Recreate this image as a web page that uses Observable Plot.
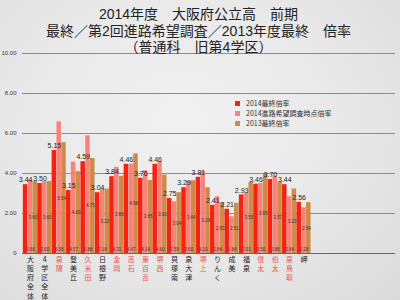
<!DOCTYPE html>
<html><head><meta charset="utf-8">
<script src="https://cdn.jsdelivr.net/npm/d3@7"></script>
<script src="https://cdn.jsdelivr.net/npm/@observablehq/plot@0.6"></script>
<style>
html,body{margin:0;padding:0;background:#e6e6e6;}
#wrap{position:relative;width:400px;height:300px;overflow:hidden;
 background:radial-gradient(ellipse at 45% 40%, #f1f1f1 0%, #e8e8e8 55%, #dadada 100%);
 font-family:"Noto Sans CJK JP",sans-serif;}
#title{position:absolute;top:6px;left:0;width:397px;text-align:center;font-size:14px;color:#222;z-index:2;white-space:nowrap;
 font-family:"Liberation Sans","Noto Sans CJK JP",sans-serif}
#title div{height:16.5px;line-height:16.5px;overflow:visible}
#legend{position:absolute;left:235px;top:98px;font-size:7px;line-height:10px;color:#333;z-index:2;white-space:nowrap}
#legend div{display:flex;align-items:center;height:10px}
#legend span.sw{display:inline-block;width:5px;height:5px;margin-right:6px}
#chart{position:absolute;left:0;top:0}
</style></head>
<body>
<div id="wrap">
<div id="title"><div><span>2014年度　大阪府公立高　前期</span></div><div><span>最終／第2回進路希望調査／2013年度最終　倍率</span></div><div><span>（普通科　旧第4学区）</span></div></div>
<div id="legend"></div>
<div id="chart"></div>
</div>
<script>
const categories = ["大阪府全体","4学区全体","泉陽","登美丘","久米田","日根野","金岡","高石","東百舌","堺西","貝塚南","泉大津","堺上","りんく","成美","福泉","信太","伯太","泉鳥取","岬"];
const highlighted = ["泉陽","久米田","金岡","高石","東百舌","堺西","堺上","信太","伯太","泉鳥取"];
const seriesNames = ["2014最終倍率","2014進路希望調査時点倍率","2013最終倍率"];
const final2014  = [3.44,3.50,5.15,3.15,4.59,3.04,3.84,4.46,3.76,4.46,2.75,3.29,3.81,2.41,2.21,2.93,3.46,3.70,3.44,2.56];
const survey2014 = [3.66,3.60,6.58,4.57,5.88,3.18,4.31,4.47,4.14,4.60,2.59,3.60,4.10,2.84,1.84,3.01,3.50,3.88,2.84,2.28];
const final2013  = [3.60,3.60,5.54,4.09,4.75,3.22,3.86,4.98,3.65,3.92,3.04,3.64,3.29,2.53,2.51,3.55,3.95,3.57,3.23,2.54];
const colors = ["#f4230f","#f9827a","#cd8a48"];
const yTicks = [0,2,4,6,8,10];

const seriesValues = [final2014, survey2014, final2013];
const rows = categories.flatMap((c,i)=>seriesValues.map((vals,s)=>({cat:c, s, key:c+"|"+s, v:vals[i]})));
const keys = rows.map(r=>r.key);
const step = 14.4, x0 = 22.7;

const legend = document.getElementById("legend");
seriesNames.forEach((n,i)=>{
  const d = document.createElement("div");
  d.innerHTML = `<span class="sw" style="background:${colors[i]}"></span>${n}`;
  legend.appendChild(d);
});

const chart = Plot.plot({
  width:400, height:300,
  marginLeft:22, marginRight:5, marginTop:53, marginBottom:47,
  style:{background:"transparent", overflow:"visible", fontFamily:"'Liberation Sans','Noto Sans CJK JP',sans-serif"},
  x:{domain:keys, range:[x0, x0 + categories.length*step], padding:0, axis:null},
  y:{domain:[0,10], axis:null},
  color:{type:"identity"},
  marks:[
    Plot.ruleY(yTicks.filter(d=>d>0), {stroke:"#8c8c8c", strokeWidth:1}),
    Plot.axisY({ticks:yTicks, tickSize:0, tickPadding:6, tickFormat:d=>d===0?"0":d.toFixed(2), fontSize:6, fill:"#333", label:null}),
    Plot.barY(rows, {x:"key", y:"v", fill:d=>colors[d.s], insetLeft:0.15, insetRight:0.15}),
    Plot.ruleY([0], {stroke:"#666", strokeWidth:1}),
    Plot.text(rows.filter(r=>r.s===0), {x:"key", y:"v", text:d=>d.v.toFixed(2), dy:-4.5, fontSize:7, fill:"#222"}),
    Plot.text(rows.filter(r=>r.s===2), {x:"key", y:d=>d.v/2, text:d=>d.v.toFixed(2), dx:-2.4, fontSize:4.5, fill:"#333"}),
    Plot.text(rows.filter(r=>r.s===1), {x:"key", y:0, text:d=>d.v.toFixed(2), dy:-4, fontSize:4.5, fill:"#333"}),
    Plot.text(categories, {x:c=>c+"|1", y:0, text:c=>[...c].join("\n"), lineAnchor:"top", dy:1.5, fontSize:7, lineHeight:1.32,
      fontFamily:"'Noto Sans CJK JP',sans-serif", fill:c=>highlighted.includes(c)?"#ef5350":"#222"})
  ]
});
document.getElementById("chart").appendChild(chart);
</script>
</body></html>
